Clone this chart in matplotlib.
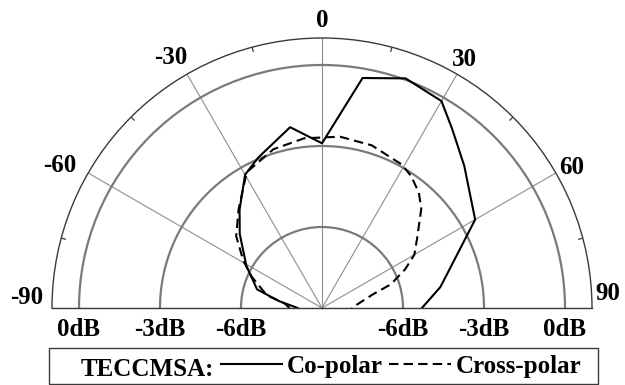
import numpy as np
import matplotlib.pyplot as plt
from matplotlib.lines import Line2D
from matplotlib.patches import Rectangle

# measured E-plane pattern, angle in degrees, normalised gain in dB
co_angle = [-90, -81, -74, -61, -48, -40, -30, -23, -10, 0, 10, 20, 30, 36, 45, 60, 80, 90]
co_gain = [-8.1, -7.4, -6.5, -5.8, -4.9, -4.25, -3.3, -2.95, -2.2, -2.9,
           -0.35, 0.05, -0.15, -0.8, -1.55, -2.45, -4.55, -5.3]

cross_angle = [-90, -83, -77, -66, -59, -50, -40, -29, -17, -6, 6, 17, 29, 34,
               40, 45, 54, 60, 65, 71, 75, 90]
cross_gain = [-7.8, -7.6, -6.9, -6.15, -5.6, -4.85, -4.2, -3.25, -2.85, -2.68,
              -2.62, -2.7, -2.92, -3.1, -3.42, -3.8, -4.65, -5.05, -5.6, -6.3,
              -7.05, -7.9]

angle_ticks = [-90, -60, -30, 0, 30, 60, 90]
mid_ticks = [-75, -45, -15, 15, 45, 75]
ring_levels = [-6, -3, 0]
ring_labels = ['-6dB', '-3dB', '0dB']

plt.rcParams['font.family'] = ['Liberation Serif', 'DejaVu Serif']
plt.rcParams['font.weight'] = 'bold'
plt.rcParams['font.size'] = 18

W, H = 625, 385
fig = plt.figure(figsize=(W / 100, H / 100), dpi=100)
# square box; the half disc sits in its middle band
ax = fig.add_axes([52 / W, -58 / H, 540 / W, 540 / H], projection='polar')
ax.set_theta_zero_location('N')
ax.set_theta_direction(-1)
ax.set_thetamin(-90)
ax.set_thetamax(90)
ax.set_rlim(-9, 1)

# spokes every 30 deg
ax.set_xticks(np.radians(angle_ticks))
ax.set_xticklabels([])
ax.tick_params(axis='x', length=0)
ax.xaxis.grid(True, color='#8e8e8e', lw=0.8)

# dB rings
ax.set_yticks(ring_levels)
ax.set_yticklabels([])
ax.tick_params(axis='y', length=0)
ax.yaxis.grid(True, color='#7a7a7a', lw=1.6)

for name in ('polar', 'start', 'end'):
    ax.spines[name].set_color('#3a3a3a')
    ax.spines[name].set_linewidth(1.0)
ax.spines['inner'].set_visible(False)

# short marks on the rim half way between spokes
ax.vlines(np.radians(mid_ticks), 0.82, 1, color='#3a3a3a', lw=0.9)

ax.plot(np.radians(co_angle), co_gain, color='black', lw=1.5)
ax.plot(np.radians(cross_angle), cross_gain, color='black', lw=1.5,
        linestyle=(0, (4.5, 2.5)))

# angle labels around the rim (pixel offsets from the rim point)
rim_offsets = {-90: (-25, 13), -60: (-28, 10), -30: (-16, 19), 0: (0, 20),
               30: (7, 17), 60: (16, 8), 90: (16, 17)}
for a in angle_ticks:
    ax.annotate(str(a), xy=(np.radians(a), 1), xytext=rim_offsets[a],
                textcoords='offset pixels', ha='center', va='center_baseline',
                annotation_clip=False)

# ring labels under the baseline, both sides
for lev, lab in zip(ring_levels, ring_labels):
    for side in (-90, 90):
        ax.annotate(lab, xy=(np.radians(side), lev), xytext=(0, -19),
                    textcoords='offset pixels', ha='center',
                    va='center_baseline', annotation_clip=False)

# legend strip at the bottom
fig.add_artist(Rectangle((49 / W, 1.5 / H), 549 / W, 36 / H,
                         transform=fig.transFigure, fill=False,
                         ec='#3a3a3a', lw=1.0))
fig.text(81 / W, 18.5 / H, 'TECCMSA:', ha='left', va='center_baseline')
handles = [Line2D([], [], color='black', lw=1.5),
           Line2D([], [], color='black', lw=1.5, linestyle=(0, (4.5, 2.5)))]
fig.legend(handles, ['Co-polar', 'Cross-polar'], ncol=2, frameon=False,
           loc='center left', bbox_to_anchor=(221 / W, 19 / H),
           bbox_transform=fig.transFigure, handlelength=2.45,
           handletextpad=0.2, columnspacing=0.25, borderpad=0,
           borderaxespad=0)

fig.savefig('out.png', dpi=100)
